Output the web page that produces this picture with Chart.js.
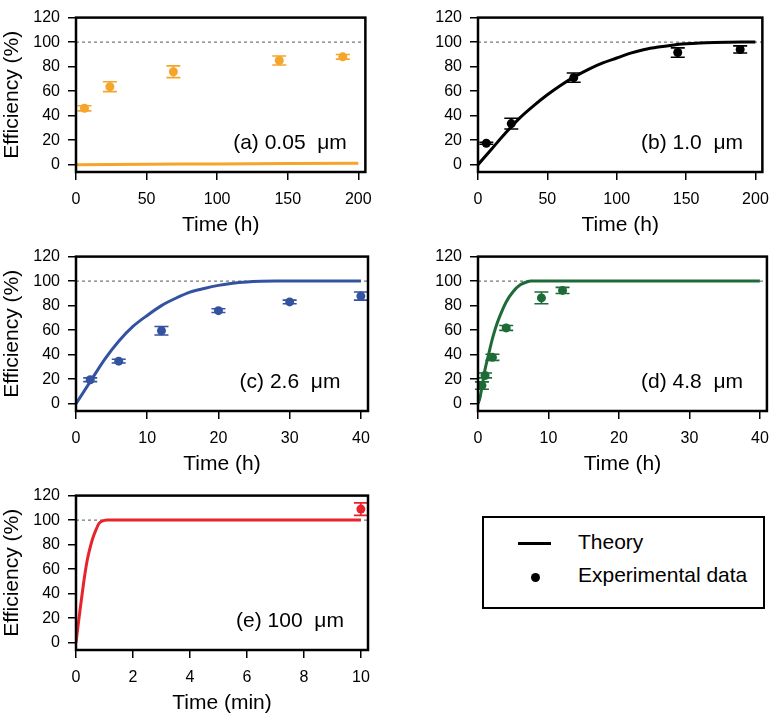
<!DOCTYPE html>
<html>
<head>
<meta charset="utf-8">
<script src="https://cdn.jsdelivr.net/npm/chart.js@4.4.1/dist/chart.umd.min.js"></script>
<style>
  html, body { margin: 0; padding: 0; background: #fff; overflow: hidden; }
  body { width: 779px; height: 715px; position: relative; font-family: "Liberation Sans", Arial, sans-serif; }
  canvas { position: absolute; }
  #legend { position: absolute; left: 482px; top: 516px; width: 283px; height: 93px; border: 2px solid #000; box-sizing: border-box; }
  #legend .lineKey { position: absolute; left: 34px; top: 24px; width: 33px; height: 3px; background: #000; }
  #legend .dotKey { position: absolute; left: 47px; top: 55px; width: 9px; height: 9px; border-radius: 50%; background: #000; }
  #legend .txt { position: absolute; left: 94px; font-size: 21px; line-height: 24px; color: #000; }
</style>
</head>
<body>
<canvas id="panelA" width="382" height="238" style="left:0px;top:0px"></canvas>
<canvas id="panelB" width="377" height="238" style="left:402px;top:0px"></canvas>
<canvas id="panelC" width="382" height="238" style="left:0px;top:239px"></canvas>
<canvas id="panelD" width="377" height="238" style="left:402px;top:239px"></canvas>
<canvas id="panelE" width="382" height="238" style="left:0px;top:478px"></canvas>
<div id="legend">
  <div class="lineKey"></div><div class="txt" style="top:12px">Theory</div>
  <div class="dotKey"></div><div class="txt" style="top:45px">Experimental data</div>
</div>
<script>
// tick labels
const effTicks = [0, 20, 40, 60, 80, 100, 120];
const hourTicksLong = [0, 50, 100, 150, 200];
const hourTicksShort = [0, 10, 20, 30, 40];
const minuteTicks = [0, 2, 4, 6, 8, 10];

// (a) 0.05 um
const timeA = [6, 24, 69, 144, 189];
const effA = [46, 63.6, 75.8, 85, 88];
const errA = [2.1, 4, 4.8, 3.7, 1.9];
const theoryTimeA = [0, 50, 100, 150, 200];
const theoryEffA = [0, 0.3, 0.6, 0.9, 1.2];

// (b) 1.0 um
const timeB = [6, 24, 69, 144, 189];
const effB = [17.5, 33.5, 71, 91.5, 94];
const errB = [0.8, 4.4, 3.8, 3.8, 2.9];
const theoryTimeB = [0, 10, 20, 30, 40, 50, 60, 70, 80, 90, 100, 110, 120, 130, 140, 150, 160, 170, 180, 190, 200];
const theoryEffB = [0, 13, 26, 38, 48, 57, 65, 72, 78, 83, 87, 91, 94, 96, 97.5, 98.6, 99.3, 99.7, 99.9, 100, 100];

// (c) 2.6 um
const timeC = [2, 6, 12, 20, 30, 40];
const effC = [19.5, 34.7, 59.5, 75.9, 83, 87.8];
const errC = [1.5, 1.5, 3.5, 1.5, 1.5, 3.3];
const theoryTimeC = [0, 2, 4, 6, 8, 10, 12, 14, 16, 18, 20, 22, 24, 26, 28, 40];
const theoryEffC = [0, 18, 36, 51, 63, 72, 80, 86, 91, 94, 96.5, 98.3, 99.3, 99.8, 100, 100];

// (d) 4.8 um
const timeD = [0.56, 1, 2.05, 4, 9, 12];
const effD = [14.8, 23, 37.8, 61.8, 86.3, 92.4];
const errD = [3, 2, 2.5, 2, 4.8, 2.5];
const theoryTimeD = [0, 0.25, 0.6, 1, 1.5, 2, 2.5, 3, 4, 5, 6, 7, 7.5, 8, 40];
const theoryEffD = [0, 4, 15, 28, 40, 52, 62, 70, 83, 91.5, 97, 99.5, 100, 100, 100];

// (e) 100 um
const timeE = [10];
const effE = [109];
const errE = [5.1];
const theoryTimeE = [0, 0.1, 0.2, 0.3, 0.4, 0.5, 0.6, 0.7, 0.8, 0.9, 1.0, 1.1, 10];
const theoryEffE = [0, 19, 37, 54, 68, 78, 86, 92, 97, 99, 99.8, 100, 100];

const FONT = '"Liberation Sans", Arial, sans-serif';

/**
 * Barras de erro verticais com traços
 */
const errorBars = {
  id: "errorBars",
  beforeDatasetsDraw(chart) {
    const { ctx } = chart;
    const xs = chart.scales.x, ys = chart.scales.y;
    chart.data.datasets.forEach(ds => {
      if (!ds.errors) return;
      ctx.save();
      ctx.strokeStyle = ds.borderColor;
      ctx.lineWidth = 1.6;
      ds.data.forEach((p, i) => {
        const px = xs.getPixelForValue(p.x);
        const top = ys.getPixelForValue(p.y + ds.errors[i]);
        const bot = ys.getPixelForValue(p.y - ds.errors[i]);
        ctx.beginPath();
        ctx.moveTo(px, top); ctx.lineTo(px, bot);
        ctx.moveTo(px - 7, top); ctx.lineTo(px + 7, top);
        ctx.moveTo(px - 7, bot); ctx.lineTo(px + 7, bot);
        ctx.stroke();
      });
      ctx.restore();
    });
  }
};

/**
 * Moldura do painel e rótulo (a)...(e)
 */
const panelFrame = {
  id: "panelFrame",
  afterDraw(chart, args, opts) {
    const { ctx, chartArea: a } = chart;
    ctx.save();
    ctx.strokeStyle = "#000";
    ctx.lineWidth = 2.5;
    ctx.strokeRect(a.left, a.top, a.right - a.left, a.bottom - a.top);
    ctx.fillStyle = "#000";
    ctx.font = "21px " + FONT;
    ctx.textAlign = "center";
    ctx.textBaseline = "middle";
    ctx.fillText(opts.label, a.left + 214, a.top + 126);
    ctx.restore();
  }
};

function pairs(xs, ys) {
  return xs.map((x, i) => ({ x, y: ys[i] }));
}

function makePanel(id, p) {
  new Chart(document.getElementById(id), {
    type: "scatter",
    data: {
      datasets: [
        {
          label: "Experimental data",
          data: pairs(p.time, p.eff),
          errors: p.err,
          backgroundColor: p.color,
          borderColor: p.color,
          pointRadius: 4.5,
          pointBorderWidth: 0,
          showLine: false
        },
        {
          label: "Theory",
          data: pairs(p.theoryTime, p.theoryEff),
          showLine: true,
          borderColor: p.color,
          borderWidth: 3,
          pointRadius: 0,
          cubicInterpolationMode: "monotone",
          fill: false
        },
        {
          label: "100 %",
          data: [{ x: 0, y: 100 }, { x: p.xMax, y: 100 }],
          showLine: true,
          borderColor: "#555",
          borderWidth: 1,
          borderDash: [3, 3],
          pointRadius: 0
        }
      ]
    },
    options: {
      responsive: false,
      animation: false,
      layout: { padding: { top: 7, right: p.padRight, left: 0, bottom: 0 } },
      plugins: {
        legend: { display: false },
        tooltip: { enabled: false },
        panelFrame: { label: p.label }
      },
      scales: {
        x: {
          type: "linear",
          min: 0,
          max: p.xMax,
          afterBuildTicks: s => { s.ticks = p.xTicks.map(v => ({ value: v })); },
          afterFit: s => { s.height = 66; },
          grid: { drawOnChartArea: false, drawTicks: true, tickLength: 8, color: "#000", lineWidth: 1.5 },
          border: { display: false },
          ticks: { color: "#000", font: { size: 16, family: FONT }, padding: 10, maxRotation: 0 },
          title: { display: true, text: p.xTitle, color: "#000", font: { size: 21, family: FONT }, padding: 0 }
        },
        y: {
          type: "linear",
          min: -6,
          max: 120,
          afterBuildTicks: s => { s.ticks = effTicks.map(v => ({ value: v })); },
          afterFit: s => { s.width = 76; },
          grid: { drawOnChartArea: false, drawTicks: true, tickLength: 8, color: "#000", lineWidth: 1.5 },
          border: { display: false },
          ticks: { color: "#000", font: { size: 16, family: FONT }, padding: 8 },
          title: { display: p.yTitle, text: "Efficiency (%)", color: "#000", font: { size: 21, family: FONT }, padding: 0 }
        }
      }
    },
    plugins: [errorBars, panelFrame]
  });
}

makePanel("panelA", { time: timeA, eff: effA, err: errA, theoryTime: theoryTimeA, theoryEff: theoryEffA,
  color: "#F5A52A", xMax: 205, xTicks: hourTicksLong, xTitle: "Time (h)", yTitle: true, padRight: 14, label: "(a) 0.05  μm" });
makePanel("panelB", { time: timeB, eff: effB, err: errB, theoryTime: theoryTimeB, theoryEff: theoryEffB,
  color: "#000000", xMax: 205, xTicks: hourTicksLong, xTitle: "Time (h)", yTitle: false, padRight: 9, label: "(b) 1.0  μm" });
makePanel("panelC", { time: timeC, eff: effC, err: errC, theoryTime: theoryTimeC, theoryEff: theoryEffC,
  color: "#3352A0", xMax: 41, xTicks: hourTicksShort, xTitle: "Time (h)", yTitle: true, padRight: 14, label: "(c) 2.6  μm" });
makePanel("panelD", { time: timeD, eff: effD, err: errD, theoryTime: theoryTimeD, theoryEff: theoryEffD,
  color: "#1E6B37", xMax: 41, xTicks: hourTicksShort, xTitle: "Time (h)", yTitle: false, padRight: 9, label: "(d) 4.8  μm" });
makePanel("panelE", { time: timeE, eff: effE, err: errE, theoryTime: theoryTimeE, theoryEff: theoryEffE,
  color: "#E8232B", xMax: 10.25, xTicks: minuteTicks, xTitle: "Time (min)", yTitle: true, padRight: 14, label: "(e) 100  μm" });
</script>
</body>
</html>
